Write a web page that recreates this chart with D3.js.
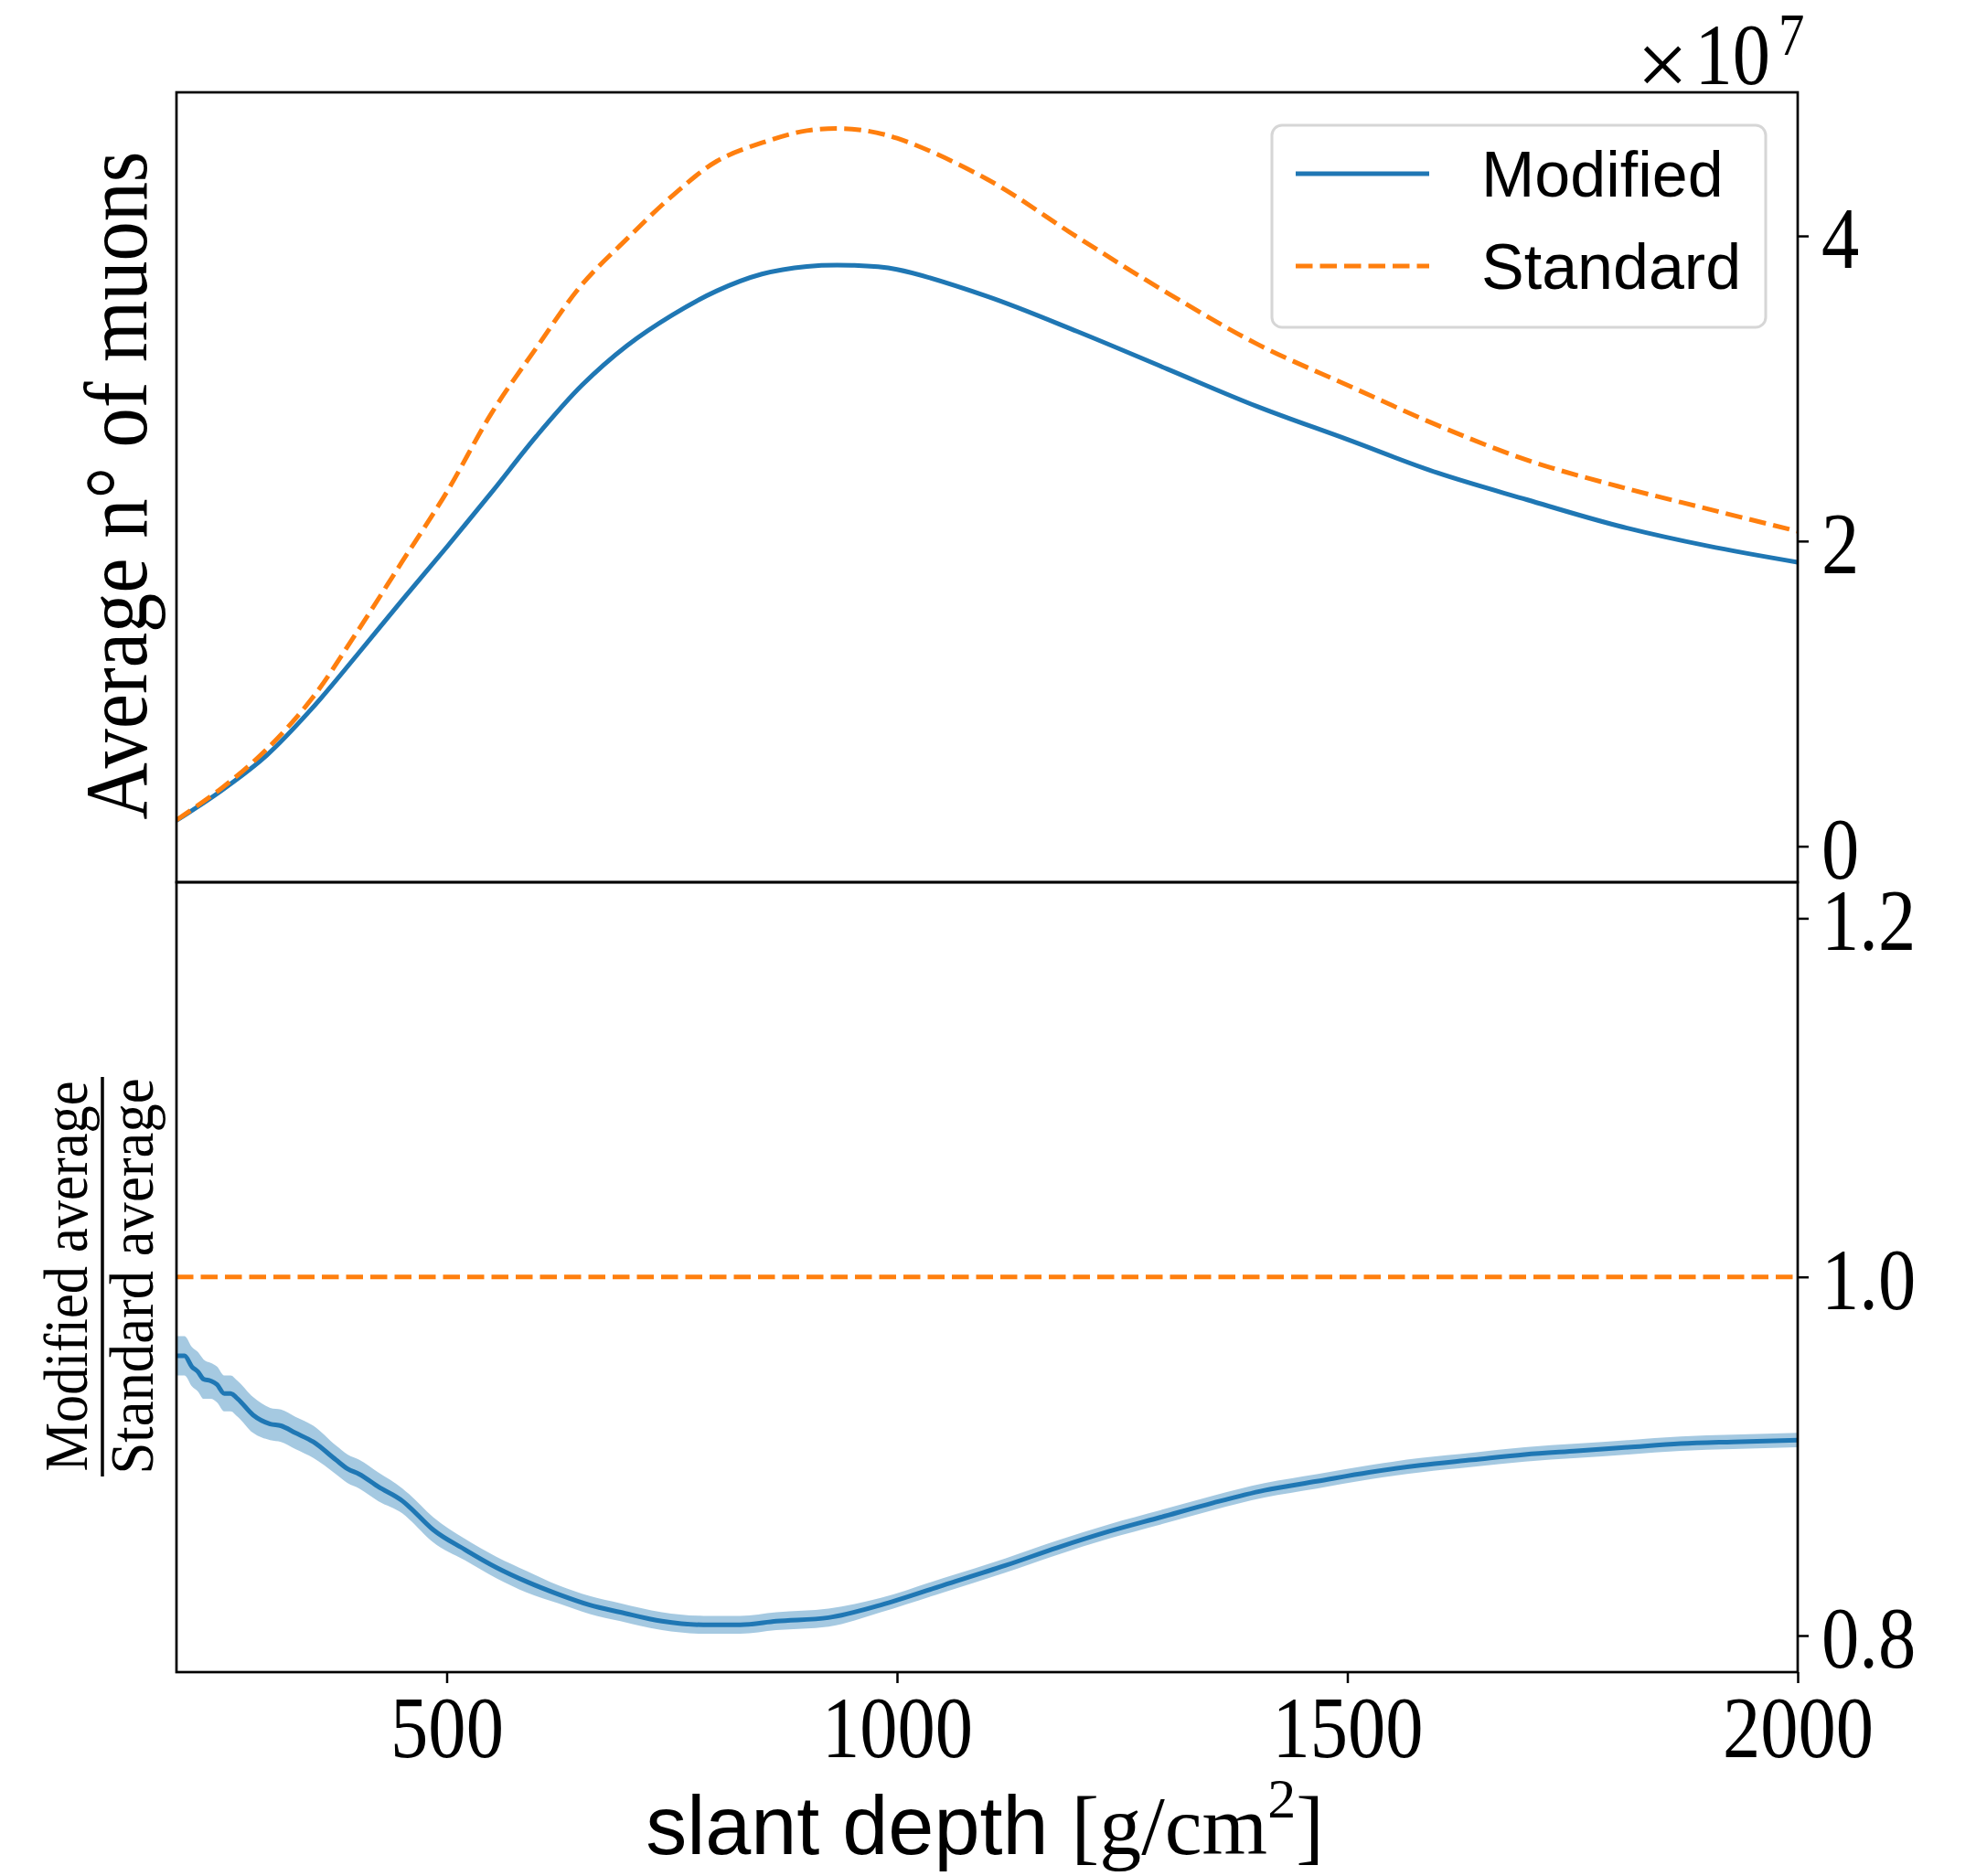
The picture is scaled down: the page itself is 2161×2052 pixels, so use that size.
<!DOCTYPE html>
<html>
<head>
<meta charset="utf-8">
<script src="https://cdn.jsdelivr.net/npm/d3@7"></script>
<style>
  body { margin: 0; background: #fff; }
</style>
</head>
<body>
<div id="chart"></div>
<script>
// upper panel: average number of muons (units of 1e7)
const depthTop = [200, 250, 300, 350, 400, 450, 500, 550, 600, 650, 700, 750, 800, 850, 900, 950, 1000,
                  1100, 1200, 1300, 1400, 1500, 1600, 1700, 1800, 1900, 2000];
const modifiedAvg = [0.169, 0.365, 0.595, 0.900, 1.250, 1.609, 1.96, 2.32, 2.69, 3.02, 3.28, 3.48, 3.64, 3.75, 3.80, 3.807, 3.780,
                     3.604, 3.374, 3.128, 2.882, 2.666, 2.447, 2.270, 2.101, 1.968, 1.861];
const standardAvg = [0.172, 0.380, 0.635, 0.965, 1.40, 1.86, 2.32, 2.84, 3.27, 3.68, 3.98, 4.26, 4.49, 4.61, 4.69, 4.70, 4.64,
                     4.372, 3.993, 3.627, 3.291, 3.022, 2.759, 2.530, 2.360, 2.211, 2.064];

// lower panel: ratio modified / standard with its uncertainty
const depthRatio = [200, 209, 217, 224, 230, 238, 245, 253, 260, 268, 285, 304, 316, 332, 352, 377, 390, 403, 424, 451, 458,
                    485, 520, 555, 589, 624, 659, 693, 739, 785, 826, 866, 924, 982, 1051, 1120, 1178, 1235, 1293, 1351,
                    1408, 1466, 1524, 1581, 1639, 1697, 1755, 1812, 1870, 1928, 2000];
const ratioMean = [0.956, 0.956, 0.950, 0.947, 0.943, 0.942, 0.940, 0.935, 0.935, 0.932, 0.923, 0.918, 0.917, 0.913, 0.908, 0.898, 0.893, 0.890, 0.883, 0.875, 0.872,
                   0.859, 0.848, 0.838, 0.830, 0.823, 0.817, 0.813, 0.808, 0.806, 0.806, 0.808, 0.810, 0.817, 0.828, 0.839, 0.849, 0.858, 0.866, 0.874,
                   0.881, 0.886, 0.891, 0.895, 0.898, 0.901, 0.903, 0.905, 0.907, 0.908, 0.909];
const ratioErr = [0.011, 0.011, 0.011, 0.011, 0.011, 0.010, 0.010, 0.010, 0.010, 0.010, 0.010, 0.009, 0.009, 0.009, 0.009, 0.008, 0.008, 0.008, 0.008, 0.007, 0.007,
                  0.007, 0.006, 0.006, 0.006, 0.005, 0.005, 0.005, 0.005, 0.005, 0.005, 0.005, 0.005, 0.004, 0.004, 0.004, 0.004, 0.004, 0.004, 0.004,
                  0.004, 0.004, 0.004, 0.004, 0.004, 0.004, 0.004, 0.004, 0.004, 0.004, 0.004];
const standardRatio = 1.0;

const xTicks = [500, 1000, 1500, 2000];
const topTicks = [0, 2, 4];
const ratioTicks = [0.8, 1.0, 1.2];
const seriesNames = ["Modified", "Standard"];

const blue = "#1f77b4", orange = "#ff7f0e";
const serif = "'Liberation Serif', 'DejaVu Serif', serif";
const sans = "'Liberation Sans', Arial, sans-serif";

const W = 2161, H = 2052;
const L = 193, R = 1966, T = 101, MID = 965, B = 1829;

const svg = d3.select("#chart").append("svg")
    .attr("width", W).attr("height", H)
    .style("background", "#fff");

const x = d3.scaleLinear().domain([200, 2000]).range([L, R]);
const yTop = d3.scaleLinear().domain([-0.236, 4.941]).range([MID, T]);
const yRatio = d3.scaleLinear().domain([0.7796, 1.2201]).range([B, MID]);

// narrow the serif glyphs a little, like the TeX font of the original
function squeeze(texts, sx){
    texts.each(function(){
        const t = d3.select(this);
        const tx = +t.attr("x") || 0, ty = +t.attr("y") || 0;
        t.attr("x", 0).attr("y", 0)
         .attr("transform", `translate(${tx},${ty}) scale(${sx},1)`);
    });
}

svg.append("clipPath").attr("id", "clipTop")
    .append("rect").attr("x", L).attr("y", T).attr("width", R - L).attr("height", MID - T);
svg.append("clipPath").attr("id", "clipBot")
    .append("rect").attr("x", L).attr("y", MID).attr("width", R - L).attr("height", B - MID);

// ---- upper panel
const topG = svg.append("g").attr("clip-path", "url(#clipTop)");

const lineTop = (vals) => d3.line()
    .x((d, i) => x(depthTop[i]))
    .y((d, i) => yTop(vals[i]))
    .curve(d3.curveCatmullRom.alpha(0.5))(vals);

topG.append("path")
    .attr("d", lineTop(modifiedAvg))
    .attr("fill", "none").attr("stroke", blue).attr("stroke-width", 5);

topG.append("path")
    .attr("d", lineTop(standardAvg))
    .attr("fill", "none").attr("stroke", orange).attr("stroke-width", 5)
    .attr("stroke-dasharray", "18.5,8");

// ---- lower panel
const botG = svg.append("g").attr("clip-path", "url(#clipBot)");

const band = d3.area()
    .x((d, i) => x(depthRatio[i]))
    .y0((d, i) => yRatio(ratioMean[i] - ratioErr[i]))
    .y1((d, i) => yRatio(ratioMean[i] + ratioErr[i]))
    .curve(d3.curveMonotoneX);

botG.append("path")
    .attr("d", band(ratioMean))
    .attr("fill", blue).attr("fill-opacity", 0.4);

botG.append("path")
    .attr("d", d3.line().x((d, i) => x(depthRatio[i])).y(d => yRatio(d)).curve(d3.curveMonotoneX)(ratioMean))
    .attr("fill", "none").attr("stroke", blue).attr("stroke-width", 5)
    .attr("stroke-linejoin", "round");

botG.append("line")
    .attr("x1", x(200)).attr("x2", x(2000))
    .attr("y1", yRatio(standardRatio)).attr("y2", yRatio(standardRatio))
    .attr("stroke", orange).attr("stroke-width", 5)
    .attr("stroke-dasharray", "18.5,8");

// ---- frames
[[T, MID], [MID, B]].forEach(([a, b]) => {
    svg.append("rect")
        .attr("x", L).attr("y", a).attr("width", R - L).attr("height", b - a)
        .attr("fill", "none").attr("stroke", "#000").attr("stroke-width", 2.7);
});

// ---- axes
function styleAxis(g){
    g.select(".domain").remove();
    g.selectAll(".tick line").attr("stroke", "#000").attr("stroke-width", 2.5);
    g.selectAll(".tick text")
        .attr("fill", "#000")
        .style("font-family", serif)
        .style("font-size", "96px");
}

const yAxisTop = svg.append("g")
    .attr("transform", `translate(${R},0)`)
    .call(d3.axisRight(yTop).tickValues(topTicks).tickSize(12).tickPadding(14).tickFormat(d3.format("d")))
    .call(styleAxis);
yAxisTop.selectAll(".tick text").attr("dy", "0.36em");
squeeze(yAxisTop.selectAll(".tick text"), 0.86);

const yAxisBot = svg.append("g")
    .attr("transform", `translate(${R},0)`)
    .call(d3.axisRight(yRatio).tickValues(ratioTicks).tickSize(12).tickPadding(14).tickFormat(d3.format(".1f")))
    .call(styleAxis);
yAxisBot.selectAll(".tick text").attr("dy", "0.36em");
squeeze(yAxisBot.selectAll(".tick text"), 0.86);

const xAxis = svg.append("g")
    .attr("transform", `translate(0,${B})`)
    .call(d3.axisBottom(x).tickValues(xTicks).tickSize(12).tickFormat(d3.format("d")))
    .call(styleAxis);
xAxis.selectAll(".tick text").attr("y", 93).attr("dy", 0);
squeeze(xAxis.selectAll(".tick text"), 0.86);

// offset text x10^7
const offs = svg.append("g").style("font-family", serif).attr("fill", "#000");
offs.append("text").attr("x", 1790).attr("y", 104)
    .style("font-size", "100px").text("×");
const offNum = offs.append("g");
offNum.append("text").attr("x", 1936).attr("y", 92).attr("text-anchor", "end")
    .style("font-size", "96px").text("10");
offNum.append("text").attr("x", 1945).attr("y", 60)
    .style("font-size", "66px").text("7");
squeeze(offNum.selectAll("text"), 0.86);

// ---- legend
const leg = svg.append("g");
leg.append("rect")
    .attr("x", 1391).attr("y", 137).attr("width", 540).attr("height", 221)
    .attr("rx", 11)
    .attr("fill", "#fff").attr("stroke", "#d6d6d6").attr("stroke-width", 3);
const legY = [190, 291];
seriesNames.forEach((name, i) => {
    leg.append("line")
        .attr("x1", 1417).attr("x2", 1563).attr("y1", legY[i]).attr("y2", legY[i])
        .attr("stroke", i === 0 ? blue : orange).attr("stroke-width", 5)
        .attr("stroke-dasharray", i === 0 ? null : "18.5,8");
    leg.append("text")
        .attr("x", 1620).attr("y", legY[i] + 25)
        .style("font-family", sans).style("font-size", "70px")
        .attr("fill", "#000").text(name);
});

// ---- axis titles
svg.append("text")
    .attr("transform", "translate(160,531) rotate(-90)")
    .attr("text-anchor", "middle")
    .attr("textLength", 731).attr("lengthAdjust", "spacingAndGlyphs")
    .style("font-family", serif).style("font-size", "98px")
    .text("Average n° of muons");

svg.append("text")
    .attr("transform", "translate(95,1396) rotate(-90)")
    .attr("text-anchor", "middle")
    .attr("textLength", 427).attr("lengthAdjust", "spacingAndGlyphs")
    .style("font-family", serif).style("font-size", "68px")
    .text("Modified average");
svg.append("line")
    .attr("x1", 112).attr("x2", 112).attr("y1", 1178).attr("y2", 1615)
    .attr("stroke", "#000").attr("stroke-width", 3.5);
svg.append("text")
    .attr("transform", "translate(167,1396) rotate(-90)")
    .attr("text-anchor", "middle")
    .attr("textLength", 433).attr("lengthAdjust", "spacingAndGlyphs")
    .style("font-family", serif).style("font-size", "68px")
    .text("Standard average");

const xl = svg.append("text")
    .attr("x", 1077).attr("y", 2028)
    .attr("text-anchor", "middle").attr("fill", "#000");
xl.append("tspan").style("font-family", sans).style("font-size", "90px").text("slant depth ");
xl.append("tspan").style("font-family", serif).style("font-size", "92px").text("[g/cm");
xl.append("tspan").style("font-family", serif).style("font-size", "62px").attr("dy", -40).text("2");
xl.append("tspan").style("font-family", serif).style("font-size", "92px").attr("dy", 40).text("]");
</script>
</body>
</html>
